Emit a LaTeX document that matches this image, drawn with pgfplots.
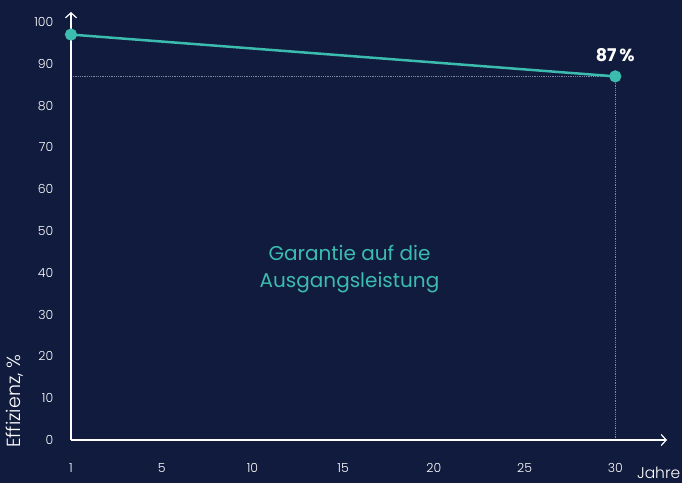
\documentclass[border=0pt]{standalone}
\usepackage{pgfplots}
\pgfplotsset{compat=1.18}
\usepackage{fontspec}
\setmainfont{Poppins}
\newfontfamily\lightfont{Poppins Light}
\usetikzlibrary{arrows.meta}
\definecolor{bgc}{HTML}{101B3D}
\definecolor{tealc}{HTML}{3CBCAF}
\definecolor{dotc}{HTML}{7F869E}
\begin{document}
\begin{tikzpicture}[x=1pt,y=1pt]
\fill[bgc] (0,0) rectangle (682,483);
\begin{axis}[
  at={(71pt,43pt)}, anchor=south west, scale only axis,
  width=596pt, height=428pt,
  xmin=0, xmax=6.57, ymin=0, ymax=102.4,
  axis lines=left,
  axis line style={white, line width=1.2pt, -{Straight Barb[length=5pt,width=11pt,line width=1.2pt]}},
  xtick={0,...,6}, xticklabels={1,5,10,15,20,25,30},
  ytick={0,10,...,100},
  tick style={draw=none},
  ticklabel style={white, font=\lightfont\fontsize{12.5}{14}\selectfont},
  /pgf/number format/assume math mode=true,
  xticklabel style={yshift=-18pt},
  yticklabel style={xshift=-12pt},
  clip=false,
  axis on top,
]
\addplot[dotc, densely dotted, line width=0.8pt] coordinates {(0,87) (6,87)};
\addplot[dotc, densely dotted, line width=0.8pt] coordinates {(6,0) (6,87)};
\addplot[tealc, line width=2.5pt, mark=*, mark size=4.8pt, mark options={fill=tealc, draw=none}] coordinates {(0,97) (6,87)};
\node[anchor=base, white, font=\fontsize{17.5}{20}\selectfont\bfseries, yshift=15pt] at (axis cs:6,87) {87\,\%};
\node[tealc, align=center, font=\fontsize{20}{27}\selectfont] at (axis cs:3.07,41) {Garantie auf die\\Ausgangsleistung};
\end{axis}
\node[rotate=90, anchor=west, white, inner sep=0pt, font=\lightfont\fontsize{19}{21}\selectfont] at (15,35) {Effizienz, \%};
\node[anchor=base east, white, inner sep=0pt, font=\lightfont\fontsize{15.5}{18}\selectfont] at (680.5,5) {Jahre};
\end{tikzpicture}
\end{document}
